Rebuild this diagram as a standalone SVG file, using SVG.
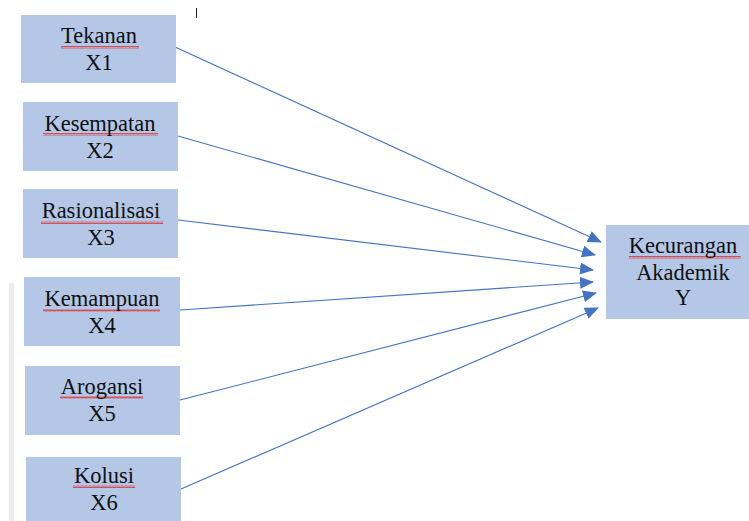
<svg xmlns="http://www.w3.org/2000/svg" width="749" height="521" viewBox="0 0 749 521">
<style>
.box{fill:#b4c7e7;}
.t{font-family:"Liberation Serif","Times New Roman",serif;font-size:22.5px;fill:#111;text-anchor:middle;}
.c{stroke:#4472c4;stroke-width:1.1;fill:none;marker-end:url(#ah);}
.sq{fill:url(#wavy);}
</style>
<defs>
<marker id="ah" markerWidth="14" markerHeight="12" refX="13" refY="6" orient="auto" markerUnits="userSpaceOnUse">
<path d="M0,0 L14,6 L0,12 z" fill="#4472c4"/>
</marker>
<pattern id="wavy" width="4" height="3" patternUnits="userSpaceOnUse">
<path d="M0,2.5 L1,0.5 L2,2.5 L3,0.5 L4,2.5" stroke="#e03030" stroke-width="0.8" fill="none"/>
</pattern>
</defs>
<rect width="749" height="521" fill="#ffffff"/>
<rect x="9" y="283" width="5" height="238" fill="#ececec"/>
<line x1="196.5" y1="8" x2="196.5" y2="18" stroke="#222" stroke-width="1"/>
<g id="connectors">
<line class="c" x1="175" y1="47" x2="601" y2="242"/>
<line class="c" x1="178" y1="136" x2="595" y2="255"/>
<line class="c" x1="178" y1="220" x2="593" y2="270"/>
<line class="c" x1="180" y1="310" x2="593" y2="282"/>
<line class="c" x1="180" y1="400" x2="596" y2="293"/>
<line class="c" x1="181" y1="489" x2="598" y2="308"/>
</g>
<g id="x1">
<rect class="box" x="21" y="15" width="155" height="68"/>
<rect class="sq" x="61" y="46" width="78" height="3"/>
<text class="t" x="99" y="43">Tekanan</text>
<text class="t" x="99" y="70">X1</text>
</g>
<g id="x2">
<rect class="box" x="23" y="102" width="155" height="69"/>
<rect class="sq" x="43" y="133" width="115" height="3"/>
<text class="t" x="100" y="131">Kesempatan</text>
<text class="t" x="100" y="158">X2</text>
</g>
<g id="x3">
<rect class="box" x="23" y="189" width="155" height="69"/>
<rect class="sq" x="41" y="221" width="122" height="3"/>
<text class="t" x="101" y="218">Rasionalisasi</text>
<text class="t" x="101" y="245">X3</text>
</g>
<g id="x4">
<rect class="box" x="24" y="277" width="156" height="69"/>
<rect class="sq" x="43" y="309" width="117" height="3"/>
<text class="t" x="102" y="306">Kemampuan</text>
<text class="t" x="102" y="333">X4</text>
</g>
<g id="x5">
<rect class="box" x="25" y="366" width="155" height="69"/>
<rect class="sq" x="60" y="396" width="83" height="3"/>
<text class="t" x="102" y="394">Arogansi</text>
<text class="t" x="102" y="421">X5</text>
</g>
<g id="x6">
<rect class="box" x="26" y="457" width="155" height="70"/>
<rect class="sq" x="73" y="485" width="62" height="3"/>
<text class="t" x="104" y="483">Kolusi</text>
<text class="t" x="104" y="510">X6</text>
</g>
<g id="y">
<rect class="box" x="606" y="225" width="150" height="94"/>
<rect class="sq" x="629" y="256" width="112" height="3"/>
<text class="t" x="683" y="253">Kecurangan</text>
<text class="t" x="683" y="280">Akademik</text>
<text class="t" x="683" y="305">Y</text>
</g>
</svg>
